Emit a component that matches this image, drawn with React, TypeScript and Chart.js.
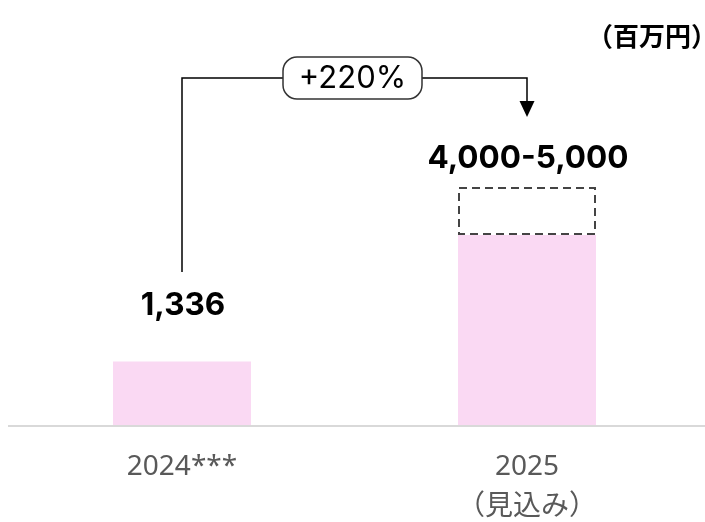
import React, { useEffect, useRef } from 'react';
import { Chart, registerables } from 'chart.js';

Chart.register(...registerables);

// ---- data ----
const categories: (string | string[])[] = ['2024***', ['2025', '（見込み）']];
const actualValues: number[] = [1336, 4000];
const rangeHigh: (number | null)[] = [null, 5000];
const valueLabels: string[] = ['1,336', '4,000-5,000'];
const growthLabel = '+220%';
const unitLabel = '（百万円）';
const yMin = 0;
const yMax = 6000;

const PINK = '#fad9f3';
const VALUE_FONT = "bold 31.5px Inter, sans-serif";
const GROWTH_FONT = "31px Inter, sans-serif";
const UNIT_FONT = "bold 26px 'Noto Sans CJK JP', sans-serif";
const LABEL_GAP = [57, 30];

const overlay = {
  id: 'overlay',
  beforeDatasetsDraw(chart: any) {
    const { ctx } = chart;
    const y0 = Math.round(chart.scales.y.getPixelForValue(0));
    ctx.save();
    ctx.strokeStyle = '#d9d9d9';
    ctx.lineWidth = 2;
    ctx.beginPath();
    ctx.moveTo(8, y0 + 1);
    ctx.lineTo(chart.width, y0 + 1);
    ctx.stroke();
    ctx.restore();
  },
  afterDatasetsDraw(chart: any) {
    const { ctx } = chart;
    const ys = chart.scales.y;
    const meta = chart.getDatasetMeta(0);
    ctx.save();

    // dashed projected ranges
    rangeHigh.forEach((hi, i) => {
      if (hi == null) return;
      const el: any = meta.data[i];
      const half = el.width / 2;
      const left = Math.round(el.x - half) + 1;
      const right = Math.round(el.x + half) - 1;
      const top = Math.round(ys.getPixelForValue(hi));
      const bottom = Math.round(ys.getPixelForValue(actualValues[i])) - 1;
      ctx.save();
      ctx.strokeStyle = '#444444';
      ctx.lineWidth = 2;
      ctx.setLineDash([8, 5]);
      ctx.strokeRect(left, top, right - left, bottom - top);
      ctx.restore();
    });

    // value labels
    const labelY: number[] = [];
    valueLabels.forEach((txt, i) => {
      const el: any = meta.data[i];
      const topVal = rangeHigh[i] ?? actualValues[i];
      const y = ys.getPixelForValue(topVal) - LABEL_GAP[i];
      labelY.push(y);
      ctx.fillStyle = '#000000';
      ctx.font = VALUE_FONT;
      ctx.textAlign = 'center';
      ctx.textBaseline = 'middle';
      ctx.fillText(txt, el.x + 1, y + 1);
    });

    // growth bracket
    const x0 = Math.round((meta.data[0] as any).x);
    const x1 = Math.round((meta.data[1] as any).x);
    const yb = 78;
    const leftBottom = Math.round(labelY[0] - 33);
    const tip = Math.round(labelY[1] - 41);
    ctx.strokeStyle = '#000000';
    ctx.lineWidth = 1.5;
    ctx.beginPath();
    ctx.moveTo(x0, leftBottom);
    ctx.lineTo(x0, yb);
    ctx.lineTo(x1, yb);
    ctx.lineTo(x1, tip - 14);
    ctx.stroke();
    ctx.fillStyle = '#000000';
    ctx.beginPath();
    ctx.moveTo(x1 - 7.5, tip - 16);
    ctx.lineTo(x1 + 7.5, tip - 16);
    ctx.lineTo(x1, tip);
    ctx.closePath();
    ctx.fill();

    // pill
    const cx = (x0 + x1) / 2 - 2;
    const pw = 139;
    const ph = 42;
    ctx.beginPath();
    ctx.roundRect(cx - pw / 2, yb - ph / 2, pw, ph, 14);
    ctx.fillStyle = '#ffffff';
    ctx.fill();
    ctx.strokeStyle = '#333333';
    ctx.lineWidth = 1.5;
    ctx.stroke();
    ctx.fillStyle = '#000000';
    ctx.font = GROWTH_FONT;
    ctx.textAlign = 'center';
    ctx.textBaseline = 'middle';
    ctx.fillText(growthLabel, cx, yb + 1);

    // unit label
    ctx.font = UNIT_FONT;
    ctx.textAlign = 'left';
    ctx.textBaseline = 'middle';
    ctx.fillText(unitLabel, 587, 36);

    ctx.restore();
  },
};

export default function App() {
  const ref = useRef<HTMLCanvasElement | null>(null);
  useEffect(() => {
    if (!ref.current) return;
    const chart = new Chart(ref.current, {
      type: 'bar',
      data: {
        labels: categories as any,
        datasets: [
          {
            data: actualValues,
            backgroundColor: PINK,
            borderWidth: 0,
            barPercentage: 0.4,
            categoryPercentage: 1.0,
          },
        ],
      },
      options: {
        responsive: false,
        animation: false,
        devicePixelRatio: 1,
        layout: { padding: { top: 140, left: 9.5, right: 5.5, bottom: 0 } },
        plugins: { legend: { display: false }, tooltip: { enabled: false } },
        scales: {
          x: {
            offset: true,
            grid: { display: false, drawTicks: false },
            border: { display: false },
            ticks: {
              color: '#595959',
              padding: 22,
              maxRotation: 0,
              autoSkip: false,
              font: { family: "'Noto Sans', 'Noto Sans CJK JP', sans-serif", size: 28, lineHeight: 40 / 28 },
            },
            afterFit: (s: any) => {
              s.height = 97;
            },
          },
          y: { display: false, min: yMin, max: yMax },
        },
      },
      plugins: [overlay],
    });
    return () => chart.destroy();
  }, []);
  return (
    <div style={{ position: 'absolute', left: 0, top: 0, width: 705, height: 522 }}>
      <canvas ref={ref} width={705} height={522} style={{ display: 'block' }} />
    </div>
  );
}
